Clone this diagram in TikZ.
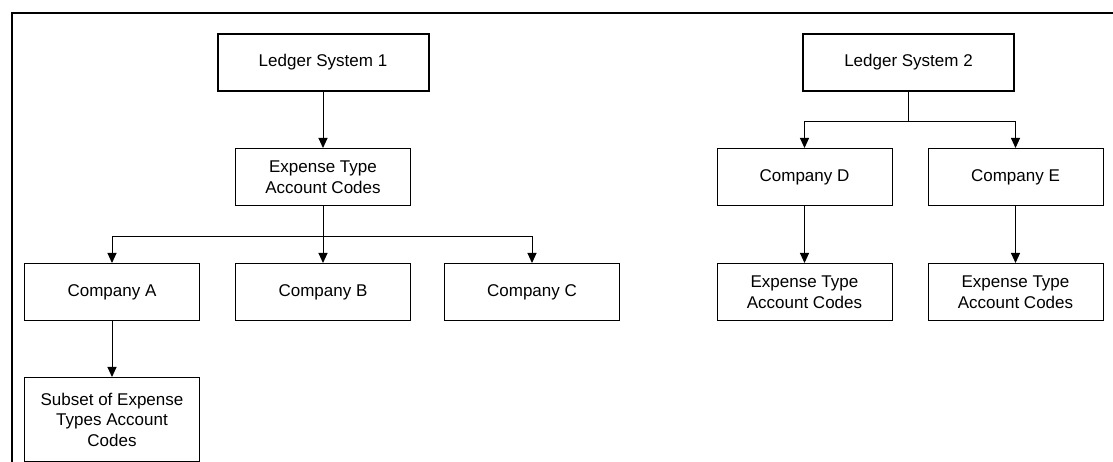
\documentclass[tikz,border=0pt]{standalone}
\usepackage{fontspec}
\setmainfont{Liberation Sans}
\usetikzlibrary{arrows.meta}
\usetikzlibrary{positioning}

\begin{document}
\begin{tikzpicture}[x=1pt,y=1pt,>={Triangle[width=9pt,length=10pt]},
                    line width=1pt,node distance=56pt,
                    box/.style={rectangle,draw,minimum width=175pt,minimum height=57pt,
                                inner sep=0pt,align=center,font=\fontsize{17}{20.5}\selectfont},
                    ledger/.style={box,minimum width=211pt,line width=2pt}]

  \useasboundingbox (0,0) rectangle (1113,462);
  \draw[line width=1.8pt] (12,0) -- (12,449) -- (1113,449);

  % ledger system 1
  \node[ledger] (ls1) at (323,399.5) {Ledger System 1};
  \node[box] (exp1) [below=of ls1] {Expense Type\\Account Codes};
  \node[box] (cb) [below=57pt of exp1] {Company B};
  \node[box] (ca) [left=35pt of cb] {Company A};
  \node[box] (cc) [right=33pt of cb] {Company C};
  \node[box,minimum height=84pt] (sub) [below=of ca] {Subset of Expense\\Types Account\\Codes};

  \path[->]
    (ls1) edge (exp1)
    (exp1) edge (cb)
    (ca) edge (sub);
  \draw[->] (exp1.south) -- ++(0,-31pt) -| (ca.north);
  \draw[->] (exp1.south) -- ++(0,-31pt) -| (cc.north);

  % ledger system 2
  \node[ledger] (ls2) at (908.5,399.5) {Ledger System 2};
  \node[box] (cd) [below=of ls2,xshift=-104pt] {Company D};
  \node[box] (ce) [right=35pt of cd] {Company E};
  \node[box] (expd) [below=57pt of cd] {Expense Type\\Account Codes};
  \node[box] (expe) [below=57pt of ce] {Expense Type\\Account Codes};

  \draw[->] (ls2.south) -- ++(0,-30pt) -| (cd.north);
  \draw[->] (ls2.south) -- ++(0,-30pt) -| (ce.north);
  \path[->]
    (cd) edge (expd)
    (ce) edge (expe);
\end{tikzpicture}
\end{document}
